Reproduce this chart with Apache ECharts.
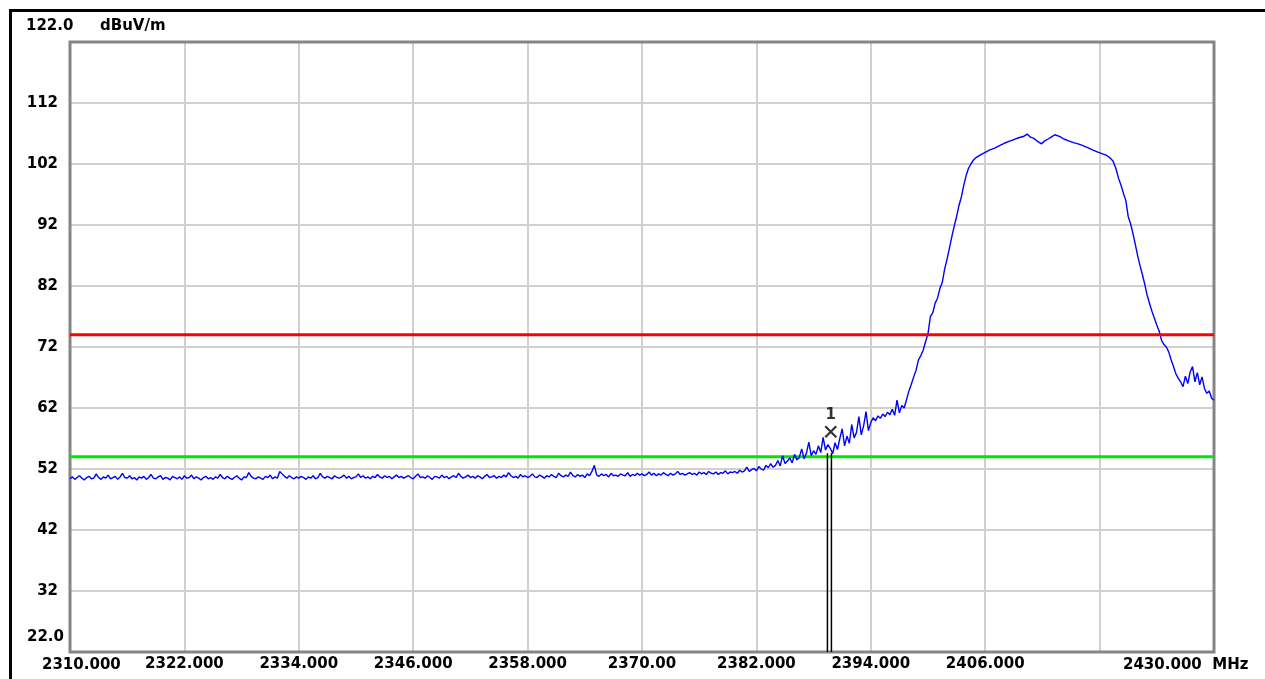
<!DOCTYPE html>
<html>
<head>
<meta charset="utf-8">
<script src="https://cdn.jsdelivr.net/npm/echarts@6/dist/echarts.min.js"></script>
<style>
html,body{margin:0;padding:0;background:#fff;}
#chart{width:1265px;height:679px;}
</style>
</head>
<body>
<div id="chart"></div>
<script>
// ---- data ----
const xMin = 2310, xMax = 2430, xStep = 12;
const yMin = 22, yMax = 122, yStep = 10;
const xTickLabels = ['', '2322.000', '2334.000', '2346.000', '2358.000', '2370.00', '2382.000', '2394.000', '2406.000', '', ''];
const firstXLabel = '2310.000';
const lastXLabel = '2430.000  MHz';
const topYLabel = '122.0';
const bottomYLabel = '22.0';
const unitLabel = 'dBuV/m';

const peakLimit = 74;   // red line
const avgLimit = 54;    // green line

const floorStart = 2310, floorStep = 0.25;
const floorLevels = [
50.4,50.7,50.3,50.6,50.9,50.5,50.2,50.6,50.8,50.4,50.5,51.2,50.6,50.3,50.7,50.5,51.0,50.4,50.6,50.8,
50.3,50.7,51.3,50.6,50.5,50.9,50.4,50.6,50.2,50.7,50.5,50.8,50.3,50.6,51.1,50.5,50.4,50.7,50.9,50.3,
50.6,50.5,50.2,50.8,50.6,50.4,50.7,50.3,50.9,50.5,50.6,51.0,50.4,50.7,50.5,50.2,50.6,50.8,50.4,50.6,
50.3,50.7,50.5,51.1,50.6,50.4,50.8,50.5,50.3,50.6,50.9,50.5,50.2,50.7,50.6,51.4,50.8,50.5,50.4,50.7,
50.5,50.3,50.8,50.6,51.0,50.4,50.7,50.5,51.6,51.2,50.8,50.5,50.9,50.6,50.4,50.7,50.5,50.8,50.6,50.3,
50.7,50.5,50.9,50.4,50.6,51.3,50.7,50.5,50.8,50.6,50.4,50.9,50.6,50.5,50.7,51.0,50.5,50.8,50.4,50.6,
50.7,51.2,50.6,50.9,50.5,50.7,50.4,50.8,50.6,51.1,50.7,50.5,50.9,50.6,50.8,50.4,50.7,51.0,50.6,50.8,
50.5,50.7,50.9,50.6,50.4,50.8,51.2,50.6,50.7,50.5,50.9,50.6,50.3,50.8,50.7,50.5,51.0,50.6,50.8,50.4,
50.7,50.9,50.6,51.3,50.8,50.5,50.7,51.0,50.6,50.8,50.5,50.9,50.7,50.4,50.8,51.1,50.6,50.7,50.9,50.5,
50.8,50.6,51.0,50.7,51.4,50.9,50.6,50.8,50.5,51.1,50.7,50.9,50.6,50.8,51.2,50.7,50.6,51.0,50.8,50.5,
50.9,50.7,51.1,50.8,50.6,51.3,50.9,50.7,51.0,50.8,51.5,50.9,50.7,51.1,50.8,51.0,50.6,51.2,50.9,51.6,
52.6,51.0,50.8,51.2,50.9,51.1,50.7,51.3,50.9,51.0,50.8,51.2,51.0,50.9,51.4,50.8,51.1,50.9,51.3,51.0,
51.2,50.9,51.1,51.5,51.0,51.3,50.9,51.2,51.0,51.4,51.1,50.9,51.3,51.0,51.2,51.6,51.1,51.3,51.0,51.2,
51.4,51.1,51.3,51.0,51.5,51.2,51.4,51.1,51.6,51.3,51.2,51.5,51.1,51.4,51.3,51.7,51.2,51.5,51.4,51.6,
51.3,51.8,51.5,51.7,52.3,51.6,51.9,52.1,51.7,52.4,52.0,51.8,52.6,52.2,52.9,52.3,52.6,53.4,52.5,54.2,
52.9,53.3,53.8,53.0,54.4,53.5,53.9,55.3,53.7,54.6,56.4,54.2,55.0,54.4,55.8,54.7,57.2,55.1,56.0,55.4,
54.5,56.3,55.2,57.0,58.6,55.8,57.4,56.2,59.3,57.1,58.0,60.6,57.6,59.1,61.4,58.3
];

const peakFreqs = [
2394.0,2394.25,2394.5,2394.75,2395.0,2395.25,2395.5,2395.75,2396.0,2396.25,2396.5,2396.75,2397.0,2397.25,2397.5,2397.75,
2398.0,2398.25,2398.5,2398.75,2399.0,2399.25,2399.5,2399.75,2400.0,2400.25,2400.5,2400.75,2401.0,2401.25,2401.5,2401.75,
2402.0,2402.25,2402.5,2402.75,2403.0,2403.25,2403.5,2403.75,2404.0,2404.25,2404.5,2404.75,2405.0,2405.5,2406.0,2406.5,
2407.0,2407.5,2408.0,2408.5,2409.0,2409.5,2410.0,2410.4,2410.75,2411.1,2411.5,2411.9,2412.25,2412.6,2413.0,2413.3,
2413.85,2414.25,2414.75,2415.25,2415.75,2416.25,2416.75,2417.25,2417.75,2418.25,2418.75,2419.1,2419.4,2419.7,2420.0,
2420.25,2420.5,2420.75,2421.0,2421.25,2421.5,2421.75,2422.0,2422.25,2422.5,2422.75,2423.0,2423.25,2423.5,2423.75,
2424.0,2424.25,2424.5,2424.75,2425.0,2425.25,2425.5,2425.75,2426.0,2426.25,2426.5,2426.75,2427.0,2427.25,2427.5,
2427.75,2428.0,2428.25,2428.5,2428.75,2429.0,2429.25,2429.5,2429.75,2430.0
];
const peakLevels = [
59.6,60.4,59.9,60.7,60.3,61.0,60.6,61.3,60.9,61.8,60.8,63.3,61.2,62.4,62.0,63.4,
64.8,65.9,67.1,68.2,69.9,70.6,71.5,72.9,74.2,77.0,77.6,79.2,80.0,81.6,82.6,84.8,
86.4,88.2,90.1,91.8,93.4,95.2,96.6,98.5,100.1,101.3,102.0,102.6,103.0,103.5,103.9,104.3,
104.6,105.0,105.4,105.7,106.0,106.3,106.5,106.9,106.4,106.2,105.7,105.3,105.8,106.1,106.5,106.8,
106.5,106.1,105.8,105.5,105.3,105.0,104.7,104.3,104.0,103.7,103.4,103.0,102.5,101.3,99.6,
98.5,97.2,96.0,93.4,92.2,90.6,88.8,86.9,85.3,83.8,82.2,80.4,79.1,77.8,76.7,
75.6,74.6,73.1,72.4,72.0,71.2,69.9,68.8,67.6,66.9,66.3,65.5,67.2,66.0,67.9,
68.8,66.3,67.8,65.8,67.1,65.2,64.4,64.8,63.6,63.3
];

// marker 1
const markerFreq = 2389.8;
const markerLevel = 58.1;
const markerLineFreqs = [2389.45, 2389.87];
const markerLineTop = 54.6;

// ---- build ----
const traceData = floorLevels.map((v, i) => [floorStart + i * floorStep, v])
  .concat(peakFreqs.map((f, i) => [f, peakLevels[i]]));

const FONT = '"DejaVu Sans", Verdana, sans-serif';
const chart = echarts.init(document.getElementById('chart'), null, {renderer: 'canvas'});

const option = {
  animation: false,
  backgroundColor: '#ffffff',
  grid: {
    left: 70, top: 42, width: 1144, height: 610,
    show: false
  },
  xAxis: {
    type: 'value', min: xMin, max: xMax, interval: xStep,
    axisLine: {show: false}, axisTick: {show: false},
    splitLine: {show: true, lineStyle: {color: '#d0d0d0', width: 2}},
    axisLabel: {
      margin: 5, color: '#000', fontFamily: FONT, fontWeight: 'bold', fontSize: 15, lineHeight: 15,
      formatter: v => xTickLabels[Math.round((v - xMin) / xStep)] || ''
    }
  },
  yAxis: {
    type: 'value', min: yMin, max: yMax, interval: yStep,
    axisLine: {show: false}, axisTick: {show: false},
    splitLine: {show: true, lineStyle: {color: '#d0d0d0', width: 2}},
    axisLabel: {
      margin: 12, color: '#000', fontFamily: FONT, fontWeight: 'bold', fontSize: 15,
      formatter: v => (v === yMin || v === yMax) ? '' : String(v)
    }
  },
  series: [
    {
      name: 'avg', type: 'line', z: 2, symbol: 'none', silent: true,
      data: [[xMin, avgLimit], [xMax, avgLimit]],
      lineStyle: {color: '#00e600', width: 3}
    },
    {
      name: 'trace', type: 'line', z: 3, symbol: 'none', silent: true,
      data: traceData,
      lineStyle: {color: '#0000ff', width: 1.4}
    },
    {
      name: 'peak', type: 'line', z: 4, symbol: 'none', silent: true,
      data: [[xMin, peakLimit], [xMax, peakLimit]],
      lineStyle: {color: '#ff0000', width: 3}
    },
    {
      name: 'mk1a', type: 'line', z: 5, symbol: 'none', silent: true,
      data: [[markerLineFreqs[0], yMin], [markerLineFreqs[0], markerLineTop]],
      lineStyle: {color: '#000', width: 1.5}
    },
    {
      name: 'mk1b', type: 'line', z: 5, symbol: 'none', silent: true,
      data: [[markerLineFreqs[1], yMin], [markerLineFreqs[1], markerLineTop]],
      lineStyle: {color: '#000', width: 1.5}
    },
    {
      name: 'marker', type: 'scatter', z: 6, silent: true,
      data: [[markerFreq, markerLevel]],
      symbol: 'path://M0,0L10,10M10,0L0,10', symbolSize: 11,
      itemStyle: {color: 'none', borderColor: '#000', borderWidth: 2.2},
      label: {show: true, position: 'top', distance: 1, formatter: '1', color: '#000',
        fontFamily: FONT, fontWeight: 'bold', fontSize: 15}
    }
  ],
  graphic: [
    {type: 'rect', z: 1, silent: true, shape: {x: 70, y: 42, width: 1144, height: 610},
      style: {fill: 'none', stroke: '#858585', lineWidth: 3}},
    {type: 'rect', z: 100, silent: true, shape: {x: 10.5, y: 10.5, width: 1400, height: 800},
      style: {fill: 'none', stroke: '#000', lineWidth: 3}},
    {type: 'text', x: 26, y: 26, style: {text: topYLabel, font: 'bold 15px ' + FONT, fill: '#000', verticalAlign: 'middle'}},
    {type: 'text', x: 100, y: 26, style: {text: unitLabel, font: 'bold 15px ' + FONT, fill: '#000', verticalAlign: 'middle'}},
    {type: 'text', x: 27, y: 637, style: {text: bottomYLabel, font: 'bold 15px ' + FONT, fill: '#000', verticalAlign: 'middle'}},
    {type: 'text', x: 42, y: 665, style: {text: firstXLabel, font: 'bold 15px ' + FONT, fill: '#000', verticalAlign: 'middle'}},
    {type: 'text', x: 1123, y: 665, style: {text: lastXLabel, font: 'bold 15px ' + FONT, fill: '#000', verticalAlign: 'middle'}}
  ]
};
chart.setOption(option);
</script>
</body>
</html>
